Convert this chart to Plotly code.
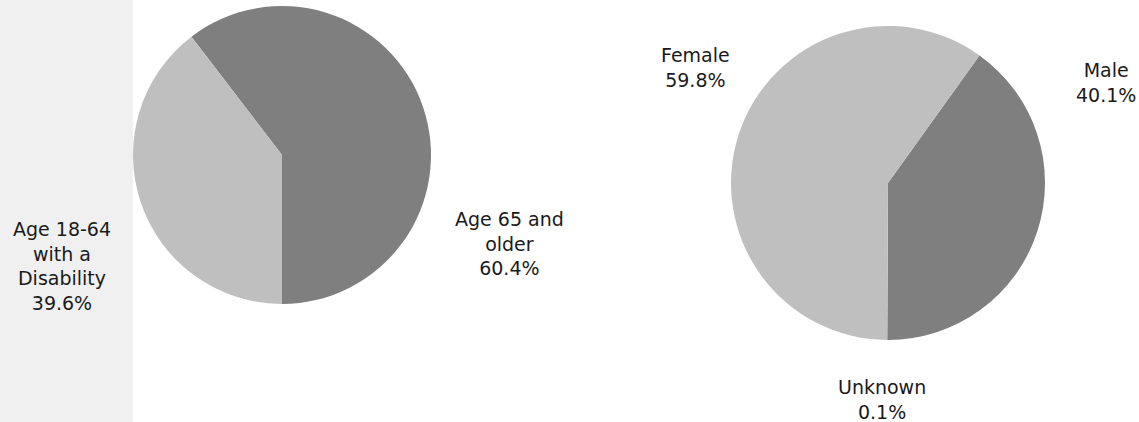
import plotly.graph_objects as go

# Left pie: population group
group_labels = ["Age 65 and older", "Age 18-64 with a Disability"]
group_label_text = ["Age 65 and<br>older", "Age 18-64<br>with a<br>Disability"]
group_values = [60.4, 39.6]
group_colors = ["#7F7F7F", "#BFBFBF"]

# Right pie: gender
gender_labels = ["Male", "Unknown", "Female"]
gender_label_text = ["Male", "Unknown", "Female"]
gender_values = [40.1, 0.1, 59.8]
gender_colors = ["#7F7F7F", "#A5A5A5", "#BFBFBF"]

W, H = 1139, 422
FONT = "DejaVu Sans"

def px_x(x):
    return x / W

def px_y(y):
    return 1 - y / H

fig = go.Figure()

fig.add_trace(go.Pie(
    labels=group_labels, values=group_values, sort=False,
    direction="clockwise", rotation=-(group_values[0] / 100 * 360 - 180),
    marker=dict(colors=group_colors, line=dict(width=0)),
    textinfo="none", hoverinfo="label+percent", showlegend=False,
    domain=dict(x=[px_x(133), px_x(431)], y=[px_y(304), px_y(6)]),
))

fig.add_trace(go.Pie(
    labels=gender_labels, values=gender_values, sort=False,
    direction="clockwise", rotation=180 - (gender_values[0] / 100 * 360),
    marker=dict(colors=gender_colors, line=dict(width=0)),
    textinfo="none", hoverinfo="label+percent", showlegend=False,
    domain=dict(x=[px_x(731), px_x(1045)], y=[px_y(340), px_y(26)]),
))

# label positions (pixel centres)
group_pos = [(509, 243), (62, 266)]
gender_pos = [(1106, 82), (882, 399), (695, 67)]

annotations = []
for txt, val, (x, y) in zip(group_label_text, group_values, group_pos):
    annotations.append(dict(x=px_x(x), y=px_y(y), xref="paper", yref="paper",
                            text=f"{txt}<br>{val:.1f}%", showarrow=False,
                            xanchor="center", yanchor="middle"))
for txt, val, (x, y) in zip(gender_label_text, gender_values, gender_pos):
    annotations.append(dict(x=px_x(x), y=px_y(y), xref="paper", yref="paper",
                            text=f"{txt}<br>{val:.1f}%", showarrow=False,
                            xanchor="center", yanchor="middle"))

fig.update_layout(
    width=W, height=H, margin=dict(l=0, r=0, t=0, b=0),
    paper_bgcolor="white", plot_bgcolor="white",
    font=dict(family=FONT, size=19, color="#1a1a1a"),
    annotations=annotations,
    shapes=[dict(type="rect", xref="paper", yref="paper", x0=0, x1=px_x(133),
                 y0=0, y1=1, fillcolor="#F0F0F0", line=dict(width=0), layer="below")],
)

fig.write_html("out.html", config={"displayModeBar": False},
               post_script="document.body.style.margin='0';document.body.style.overflow='hidden';")
